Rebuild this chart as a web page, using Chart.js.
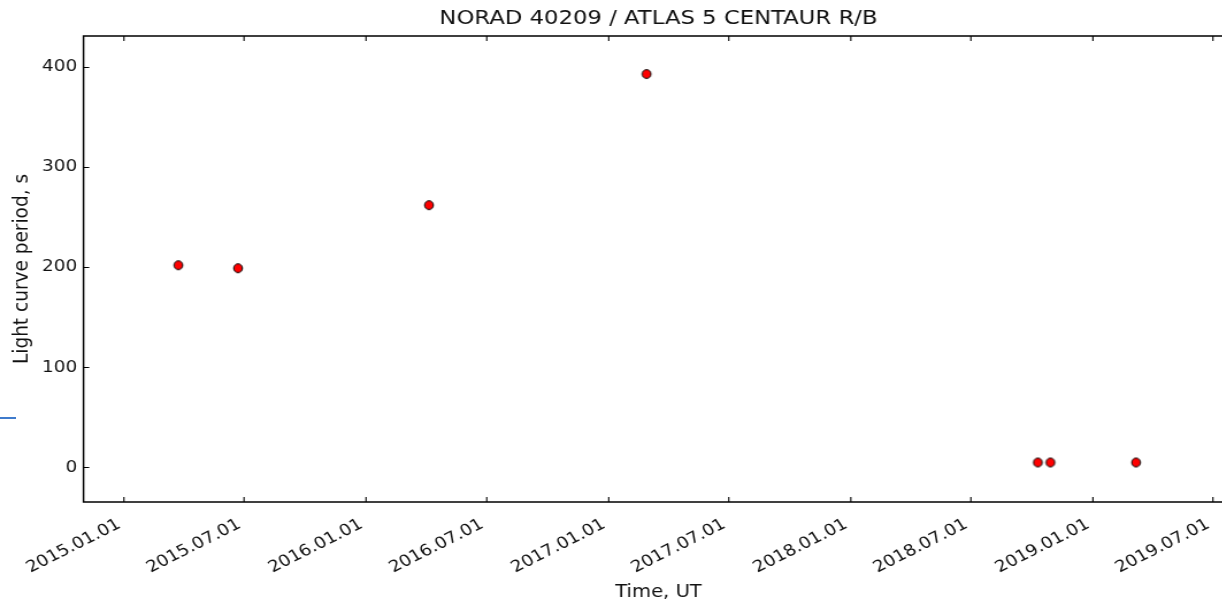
<!DOCTYPE html>
<html><head><meta charset="utf-8">
<script src="https://cdn.jsdelivr.net/npm/chart.js@4.4.1/dist/chart.umd.min.js"></script>
<style>
html,body{margin:0;padding:0;background:#fff;overflow:hidden;width:1222px;height:601px;}
#wrap{position:absolute;left:0;top:0;width:1100px;height:601px;transform:scaleX(1.15);transform-origin:0 0;}
#artifact{position:absolute;left:0;top:417px;width:16px;height:2px;background:#3f7bcc;}
</style></head><body>
<div id="wrap"><canvas id="c" width="1100" height="601"></canvas></div>
<div id="artifact"></div>
<script>
const chartTitle = 'NORAD 40209 / ATLAS 5 CENTAUR R/B';
const xAxisTitle = 'Time, UT';
const yAxisTitle = 'Light curve period, s';
const obsDates = ['2015-03-24','2015-06-22','2016-04-05','2017-02-27','2018-10-10','2018-10-29','2019-03-07'];
const periods = [202, 199, 262, 393, 5, 5, 5];
const xTickDates = ['2015-01-01','2015-07-01','2016-01-01','2016-07-01','2017-01-01','2017-07-01','2018-01-01','2018-07-01','2019-01-01','2019-07-01'];
const yTickValues = [0, 100, 200, 300, 400];
const xRange = ['2014-11-01', '2019-08-01'];
const yRange = [-34.5, 431];

const SX = 1.15;
const toMs = s => Date.parse(s + 'T00:00:00Z');
const fmtDate = v => new Date(v).toISOString().slice(0, 10).replace(/-/g, '.');
const FONT = 'DejaVu Sans';
const tickFont = {family: FONT, size: 16};
const TXT = '#111';

// round marker that stays round after the horizontal stretch
const marker = document.createElement('canvas');
marker.width = 12; marker.height = 12;
(() => {
  const m = marker.getContext('2d');
  m.beginPath();
  m.ellipse(6, 6, 4.4 / SX, 4.4, 0, 0, Math.PI * 2);
  m.fillStyle = '#ff0000';
  m.fill();
  m.lineWidth = 1;
  m.strokeStyle = '#000';
  m.stroke();
})();

const frame = {
  id: 'frame',
  afterDraw(chart) {
    const {ctx, chartArea: a, scales} = chart;
    ctx.save();
    ctx.strokeStyle = '#000';
    ctx.lineWidth = 1.1;
    const L = 5;
    ctx.beginPath();
    scales.x.ticks.forEach(t => {
      const px = scales.x.getPixelForValue(t.value);
      ctx.moveTo(px, a.bottom); ctx.lineTo(px, a.bottom - L);
      ctx.moveTo(px, a.top); ctx.lineTo(px, a.top + L);
    });
    scales.y.ticks.forEach(t => {
      const py = Math.round(scales.y.getPixelForValue(t.value)) + 0.5;
      ctx.moveTo(a.left, py); ctx.lineTo(a.left + L, py);
      ctx.moveTo(a.right, py); ctx.lineTo(a.right - L, py);
    });
    ctx.stroke();
    ctx.lineWidth = 1.5;
    ctx.strokeRect(a.left, a.top, a.right - a.left, a.bottom - a.top);
    ctx.fillStyle = TXT;
    ctx.font = '19.8px "DejaVu Sans"';
    ctx.textAlign = 'center';
    ctx.textBaseline = 'middle';
    ctx.fillText(chartTitle, (a.left + a.right) / 2, 19);
    ctx.restore();
  }
};

new Chart(document.getElementById('c'), {
  type: 'scatter',
  data: {
    datasets: [{
      data: obsDates.map((d, i) => ({x: toMs(d), y: periods[i]})),
      pointStyle: marker,
      pointRadius: 5,
      showLine: false
    }]
  },
  options: {
    responsive: false,
    animation: false,
    devicePixelRatio: 1,
    layout: {padding: {left: 0, top: 36, right: 27.4, bottom: 0}},
    plugins: {
      legend: {display: false},
      tooltip: {enabled: false},
      title: {display: false}
    },
    scales: {
      x: {
        type: 'linear', position: 'bottom',
        min: toMs(xRange[0]), max: toMs(xRange[1]),
        grid: {display: false, drawTicks: false},
        border: {display: false},
        afterBuildTicks: s => { s.ticks = xTickDates.map(d => ({value: toMs(d)})); },
        afterFit: s => { s.height = 99; },
        ticks: {minRotation: 30, maxRotation: 30, padding: 13, labelOffset: -4, color: TXT, font: tickFont,
          autoSkip: false, callback: v => fmtDate(v)},
        title: {display: true, text: xAxisTitle, color: TXT, font: {family: FONT, size: 17}, padding: {top: 0, bottom: -2}}
      },
      y: {
        type: 'linear', min: yRange[0], max: yRange[1],
        grid: {display: false, drawTicks: false},
        border: {display: false},
        afterBuildTicks: s => { s.ticks = yTickValues.map(v => ({value: v})); },
        afterFit: s => { s.width = 72.6; },
        ticks: {padding: 5.5, color: TXT, font: tickFont, callback: v => String(v)},
        title: {display: true, text: yAxisTitle, color: TXT, font: {family: FONT, size: 18.5}, padding: {top: 8, bottom: 0}}
      }
    }
  },
  plugins: [frame]
});
</script>
</body></html>
